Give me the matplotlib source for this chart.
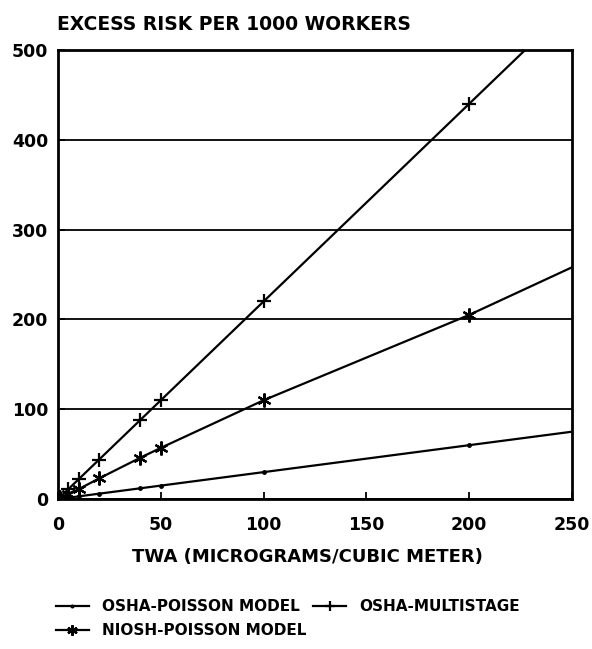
import matplotlib.pyplot as plt
import numpy as np

# TWA dose points (micrograms / cubic meter)
twa = [0, 1, 5, 10, 20, 40, 50, 100, 200, 250]
osha_poisson = [0, 0.3, 1.5, 3, 6, 12, 15, 30, 60, 75]
osha_multistage = [0, 2.2, 11, 22, 44, 88, 110, 220, 440, 550]
niosh_poisson = [0, 1.1, 6, 11, 23, 46, 57, 110, 205, 258]

# marker points actually shown (the last point only carries the line to the edge)
mark_idx = [1, 2, 3, 4, 5, 6, 7, 8]

plt.rcParams['font.family'] = ['DejaVu Sans']
plt.rcParams['font.weight'] = 'bold'

fig = plt.figure(figsize=(5.92, 6.49), dpi=100)
ax = fig.add_axes([0.098, 0.231, 0.868, 0.692])

ax.plot(twa, osha_poisson, color='black', lw=1.6, marker='.', ms=5,
        markevery=mark_idx, label='OSHA-POISSON MODEL')
ax.plot(twa, niosh_poisson, color='black', lw=1.6, marker=(6, 2, 0), ms=10,
        mew=1.6, markevery=mark_idx, label='NIOSH-POISSON MODEL')
ax.plot(twa, osha_multistage, color='black', lw=1.6, marker='+', ms=10,
        mew=1.6, markevery=mark_idx, label='OSHA-MULTISTAGE')

ax.set_xlim(0, 250)
ax.set_ylim(0, 500)
ax.set_xticks([0, 50, 100, 150, 200, 250])
ax.set_yticks([0, 100, 200, 300, 400, 500])
ax.yaxis.grid(True, color='black', lw=1.3)
ax.tick_params(direction='in', length=5, width=1.3, labelsize=12.5)
ax.tick_params(axis='x', pad=12)
ax.tick_params(axis='y', pad=7)
for sp in ax.spines.values():
    sp.set_linewidth(2)
for lab in ax.get_xticklabels() + ax.get_yticklabels():
    lab.set_fontweight('bold')

fig.text(0.52, 0.142, 'TWA (MICROGRAMS/CUBIC METER)', fontsize=13,
         fontweight='bold', ha='center', va='center')
fig.text(0.096, 0.963, 'EXCESS RISK PER 1000 WORKERS', fontsize=13.5,
         fontweight='bold', va='center')

fig.legend(loc='upper left', bbox_to_anchor=(0.094, 0.077), ncol=2,
           frameon=False, borderpad=0, borderaxespad=0,
           handlelength=2.2, columnspacing=0.4, handletextpad=0.85,
           markerscale=0.75, prop={'size': 11, 'weight': 'bold'},
           labelspacing=0.6)

fig.savefig('out.png', dpi=100)
